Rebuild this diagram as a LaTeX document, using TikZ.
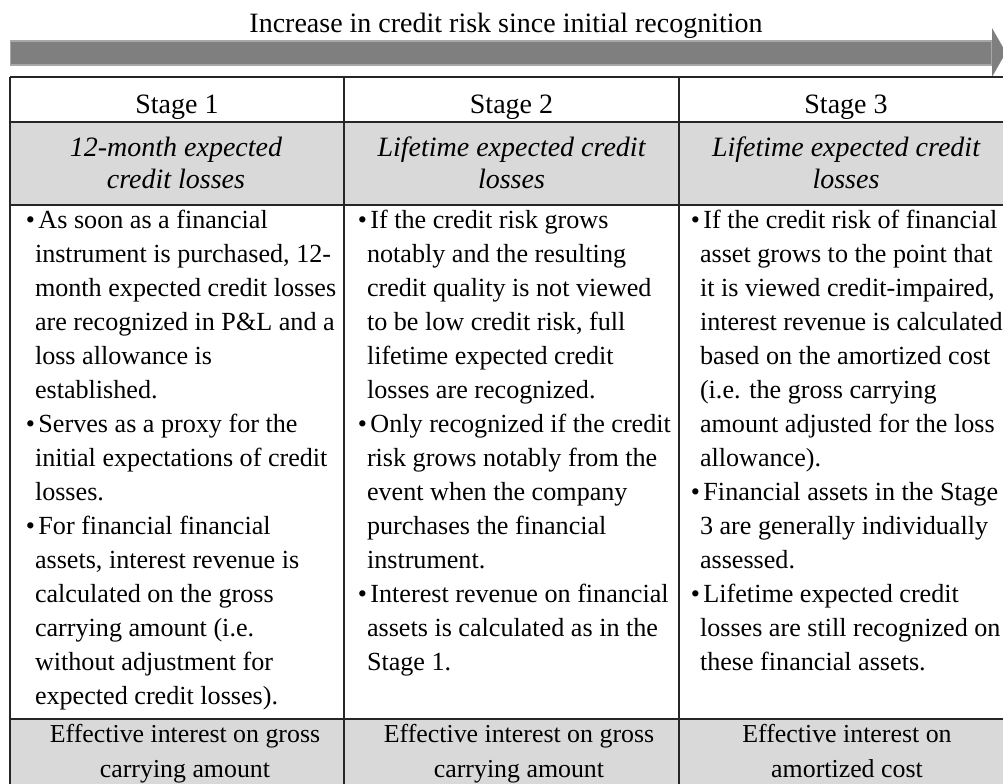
\documentclass[tikz,border=0pt]{standalone}
\usepackage{fontspec}
\setmainfont{Liberation Serif}
\definecolor{cellgray}{HTML}{D9D9D9}
\definecolor{arrowgray}{HTML}{7F7F7F}
\definecolor{arrowedge}{HTML}{A8A8A8}
\definecolor{rulecol}{HTML}{262626}
\newcommand{\bl}{\makebox[0pt][l]{\hspace{-6.8pt}\textbullet}\hspace{2.6pt}}
\newcommand{\bodycell}[1]{\parbox[t]{300pt}{\fontsize{19.6}{25.5}\selectfont\raggedright #1}}
\newcommand{\itcell}[1]{\parbox[t]{300pt}{\fontsize{21}{24}\selectfont\centering\itshape #1}}
\newcommand{\botcell}[1]{\parbox[t]{300pt}{\fontsize{19.4}{26.25}\selectfont\centering #1}}
\tikzset{
  txt/.style={inner sep=0pt, outer sep=0pt, font=\fontsize{21}{24}\selectfont},
  rule/.style={draw=rulecol, line width=1pt},
}
\begin{document}
\begin{tikzpicture}[x=0.75pt, y=-0.75pt]
\useasboundingbox (0,0) rectangle (1003,783);
\clip (0,0) rectangle (1003,783);
% arrow
\fill[arrowgray, draw=arrowedge, line width=0.8pt] (10.5,41) rectangle (992,65);
\fill[arrowgray] (992,28) -- (1006,52.5) -- (992,77) -- cycle;
\node[txt, anchor=base] (title) at (506,32) {Increase in credit risk since initial recognition};
% table fills
\fill[cellgray] (10,122) rectangle (1014,205);
\fill[cellgray] (10,719) rectangle (1014,795);
% table rules
\draw[rule] (10,77) -- (1014,77);
\draw[rule] (10,122) -- (1014,122);
\draw[rule] (10,205) -- (1014,205);
\draw[rule] (10,719) -- (1014,719);
\draw[rule] (10,77) -- (10,795);
\draw[rule] (344,77) -- (344,795);
\draw[rule] (679,77) -- (679,795);
\draw[rule] (1013.5,77) -- (1013.5,795);
% stage row
\node[txt, anchor=base] (s1) at (177,113) {Stage 1};
\node[txt, anchor=base] (s2) at (511.5,113) {Stage 2};
\node[txt, anchor=base] (s3) at (846,113) {Stage 3};
% italic row
\node[txt, anchor=base] (i1) at (176,156) {\itcell{12-month expected\\credit losses}};
\node[txt, anchor=base] (i2) at (511.5,156) {\itcell{Lifetime expected credit\\losses}};
\node[txt, anchor=base] (i3) at (846,156) {\itcell{Lifetime expected credit\\losses}};
% body
\node[txt, anchor=base west] (b1) at (35,228) {\bodycell{%
\bl As soon as a financial\\
instrument is purchased, 12-\\
month expected credit losses\\
are recognized in P\&L and a\\
loss allowance is\\
established.\\
\bl Serves as a proxy for the\\
initial expectations of credit\\
losses.\\
\bl For financial financial\\
assets, interest revenue is\\
calculated on the gross\\
carrying amount (i.e.\\
without adjustment for\\
expected credit losses).}};
\node[txt, anchor=base west] (b2) at (367,228) {\bodycell{%
\bl If the credit risk grows\\
notably and the resulting\\
credit quality is not viewed\\
to be low credit risk, full\\
lifetime expected credit\\
losses are recognized.\\
\bl Only recognized if the credit\\
risk grows notably from the\\
event when the company\\
purchases the financial\\
instrument.\\
\bl Interest revenue on financial\\
assets is calculated as in the\\
Stage 1.}};
\node[txt, anchor=base west] (b3) at (700,228) {\bodycell{%
\bl If the credit risk of financial\\
asset grows to the point that\\
it is viewed credit-impaired,\\
interest revenue is calculated\\
based on the amortized cost\\
(i.e. the gross carrying\\
amount adjusted for the loss\\
allowance).\\
\bl Financial assets in the Stage\\
3 are generally individually\\
assessed.\\
\bl Lifetime expected credit\\
losses are still recognized on\\
these financial assets.}};
% bottom row
\node[txt, anchor=base] (e1) at (185,742) {\botcell{Effective interest on gross\\carrying amount}};
\node[txt, anchor=base] (e2) at (519,742) {\botcell{Effective interest on gross\\carrying amount}};
\node[txt, anchor=base] (e3) at (847,742) {\botcell{Effective interest on\\amortized cost}};
\end{tikzpicture}
\end{document}
